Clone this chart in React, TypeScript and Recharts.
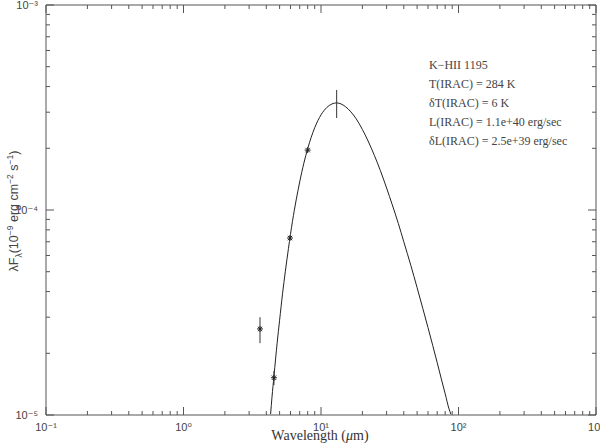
import React from 'react';
import { ComposedChart, Line, XAxis, YAxis, ReferenceLine } from 'recharts';

// Model curve (blackbody fit): wavelength (µm) and λFλ
const curveWavelength = [4.3, 4.4, 4.55, 4.8, 5.0, 5.25, 5.5, 5.8, 6.2, 6.6, 7.0, 7.5, 8.0, 9, 10, 11, 12, 13, 14, 15, 16.5, 18, 20, 22, 24.5, 27, 30, 33, 36.5, 40, 45, 50, 55, 60, 65, 70, 75, 80, 85, 88];
const curveFlux = [1.01e-5, 1.22e-5, 1.55e-5, 2.25e-5, 2.9e-5, 3.9e-5, 5.0e-5, 6.5e-5, 8.8e-5, 1.12e-4, 1.37e-4, 1.69e-4, 1.99e-4, 2.52e-4, 2.91e-4, 3.16e-4, 3.29e-4, 3.33e-4, 3.29e-4, 3.2e-4, 3.01e-4, 2.79e-4, 2.47e-4, 2.17e-4, 1.84e-4, 1.56e-4, 1.28e-4, 1.06e-4, 8.6e-5, 7.0e-5, 5.37e-5, 4.18e-5, 3.31e-5, 2.67e-5, 2.18e-5, 1.8e-5, 1.5e-5, 1.27e-5, 1.08e-5, 1.01e-5];

// IRAC photometry
const photWavelength = [3.6, 4.55, 5.95, 8.0];
const photFlux = [2.63e-5, 1.52e-5, 7.3e-5, 1.96e-4];
const photErrLow = [0.39e-5, 0.12e-5, 0.15e-5, 0.04e-4];
const photErrHigh = [0.37e-5, 0.12e-5, 0.15e-5, 0.04e-4];

// Peak marker
const peakWavelength = [13.0];
const peakFlux = [3.31e-4];
const peakErrLow = [0.5e-4];
const peakErrHigh = [0.54e-4];

// Axis range and ticks
const xDomain = [0.1, 1000];
const yDomain = [1e-5, 1e-3];
const xMajorTicks = [0.1, 1, 10, 100, 1000];
const xMajorLabels = ['10\u207b\u00b9', '10\u2070', '10\u00b9', '10\u00b2', '10\u00b3'];
const yMajorTicks = [1e-5, 1e-4, 1e-3];
const yMajorLabels = ['10\u207b\u2075', '10\u207b\u2074', '10\u207b\u00b3'];
const minorMultipliers = [2, 3, 4, 5, 6, 7, 8, 9];

const annotationLines = [
  'K\u2212HII 1195',
  'T(IRAC) = 284 K',
  '\u03b4T(IRAC) = 6 K',
  'L(IRAC) = 1.1e+40 erg/sec',
  '\u03b4L(IRAC) = 2.5e+39 erg/sec',
];

const withMinors = (majors: number[]) => {
  const out: number[] = [];
  majors.forEach((m, i) => {
    out.push(m);
    if (i < majors.length - 1) minorMultipliers.forEach((k) => out.push(m * k));
  });
  return out;
};

const xTicks = withMinors(xMajorTicks);
const yTicks = withMinors(yMajorTicks);

const curveData = curveWavelength.map((w, i) => ({ x: w, y: curveFlux[i] }));
const photData = photWavelength.map((w, i) => ({ x: w, y: photFlux[i] }));
const errorSegments = [
  ...photWavelength.map((w, i) => [
    { x: w, y: photFlux[i] - photErrLow[i] },
    { x: w, y: photFlux[i] + photErrHigh[i] },
  ]),
  ...peakWavelength.map((w, i) => [
    { x: w, y: peakFlux[i] - peakErrLow[i] },
    { x: w, y: peakFlux[i] + peakErrHigh[i] },
  ]),
];

const isMajor = (v: number) => {
  const l = Math.log10(v);
  return Math.abs(l - Math.round(l)) < 1e-6;
};

const AXIS = '#555';
const MAJOR_LEN = 8;
const MINOR_LEN = 4;
const SANS = '"Liberation Sans", "DejaVu Sans", Arial, sans-serif';
const SERIF = '"Liberation Serif", "Times New Roman", serif';
const TXT = '#444';

const fmtX = (v: number) => {
  const i = xMajorTicks.findIndex((m) => Math.abs(Math.log10(m) - Math.log10(v)) < 1e-6);
  return i >= 0 ? xMajorLabels[i] : '';
};
const fmtY = (v: number) => {
  const i = yMajorTicks.findIndex((m) => Math.abs(Math.log10(m) - Math.log10(v)) < 1e-6);
  return i >= 0 ? yMajorLabels[i] : '';
};

// Inward tick marks at both ends of a vertical reference line
const makeXTick = (major: boolean) => (p: any) => {
  const len = major ? MAJOR_LEN : MINOR_LEN;
  const x = p.x1;
  const top = Math.min(p.y1, p.y2);
  const bot = Math.max(p.y1, p.y2);
  return <path d={`M${x},${bot}L${x},${bot - len}M${x},${top}L${x},${top + len}`} stroke={AXIS} strokeWidth={1} fill="none" />;
};

// Inward tick marks at both ends of a horizontal reference line
const makeYTick = (major: boolean) => (p: any) => {
  const len = major ? MAJOR_LEN : MINOR_LEN;
  const y = p.y1;
  const left = Math.min(p.x1, p.x2);
  const right = Math.max(p.x1, p.x2);
  return <path d={`M${left},${y}L${left + len},${y}M${right},${y}L${right - len},${y}`} stroke={AXIS} strokeWidth={1} fill="none" />;
};

const Asterisk = (p: any) => {
  const { cx, cy, index } = p;
  if (cx == null || cy == null) return <g key={'n' + index} />;
  const r = 3;
  const d = 2.2;
  return (
    <path
      key={'a' + index}
      d={`M${cx - r},${cy}L${cx + r},${cy}M${cx - d},${cy - d}L${cx + d},${cy + d}M${cx - d},${cy + d}L${cx + d},${cy - d}M${cx},${cy - r}L${cx},${cy + r}`}
      stroke="#222"
      strokeWidth={1}
      fill="none"
    />
  );
};

const common = {
  xAxisId: 'b',
  yAxisId: 'l',
  dataKey: 'y',
  type: 'linear' as const,
  activeDot: false,
  isAnimationActive: false,
};

export default function App() {
  return (
    <div style={{ position: 'absolute', left: 0, top: 0, width: 600, height: 448, background: '#fff' }}>
      <ComposedChart width={600} height={448} margin={{ top: 5, right: 4, bottom: 0, left: 0 }}>
        <XAxis
          xAxisId="b"
          dataKey="x"
          type="number"
          scale="log"
          domain={xDomain}
          allowDataOverflow
          ticks={xMajorTicks}
          interval={0}
          tickFormatter={fmtX}
          tickLine={false}
          tick={{ fontSize: 11, fill: TXT, fontFamily: SANS }}
          height={33}
          stroke={AXIS}
        />
        <YAxis
          yAxisId="l"
          dataKey="y"
          type="number"
          scale="log"
          domain={yDomain}
          allowDataOverflow
          ticks={yMajorTicks}
          interval={0}
          tickFormatter={fmtY}
          tickLine={false}
          tick={{ fontSize: 11, fill: TXT, fontFamily: SANS }}
          width={46}
          stroke={AXIS}
        />
        <ReferenceLine xAxisId="b" yAxisId="l" segment={[{ x: xDomain[0], y: yDomain[1] }, { x: xDomain[1], y: yDomain[1] }]} stroke={AXIS} strokeWidth={1} />
        <ReferenceLine xAxisId="b" yAxisId="l" segment={[{ x: xDomain[1], y: yDomain[0] }, { x: xDomain[1], y: yDomain[1] }]} stroke={AXIS} strokeWidth={1} />
        {xTicks.map((v, i) => (
          <ReferenceLine key={'xt' + i} xAxisId="b" yAxisId="l" x={v} stroke={AXIS} shape={makeXTick(isMajor(v))} />
        ))}
        {yTicks.map((v, i) => (
          <ReferenceLine key={'yt' + i} xAxisId="b" yAxisId="l" y={v} stroke={AXIS} shape={makeYTick(isMajor(v))} />
        ))}
        <Line {...common} data={curveData} type="monotone" stroke="#222" strokeWidth={1} dot={false} />
        {errorSegments.map((seg, i) => (
          <Line key={'err' + i} {...common} data={seg} stroke="#333" strokeWidth={1} dot={false} />
        ))}
        <Line {...common} data={photData} stroke="none" dot={Asterisk} />
      </ComposedChart>
      <div
        style={{
          position: 'absolute',
          left: 320,
          top: 428,
          transform: 'translateX(-50%)',
          whiteSpace: 'nowrap',
          fontFamily: SERIF,
          fontSize: 14,
          lineHeight: '16px',
          color: '#333',
        }}
      >
        Wavelength (<i>{'\u03bc'}</i>m)
      </div>
      <div
        style={{
          position: 'absolute',
          left: 14,
          top: 211,
          transform: 'translate(-50%, -50%) rotate(-90deg)',
          whiteSpace: 'nowrap',
          fontFamily: SANS,
          fontSize: 12.5,
          lineHeight: '16px',
          color: TXT,
        }}
      >
        {'\u03bbF'}
        <sub style={{ fontSize: 8.5, lineHeight: 0 }}>{'\u03bb'}</sub>(10
        <sup style={{ fontSize: 8.5, lineHeight: 0 }}>{'\u22129'}</sup> erg cm
        <sup style={{ fontSize: 8.5, lineHeight: 0 }}>{'\u22122'}</sup> s
        <sup style={{ fontSize: 8.5, lineHeight: 0 }}>{'\u22121'}</sup>)
      </div>
      <div style={{ position: 'absolute', left: 429, top: 56, fontFamily: SERIF, fontSize: 12, lineHeight: '19px', color: TXT, whiteSpace: 'nowrap' }}>
        {annotationLines.map((t, i) => (
          <div key={i}>{t}</div>
        ))}
      </div>
    </div>
  );
}
